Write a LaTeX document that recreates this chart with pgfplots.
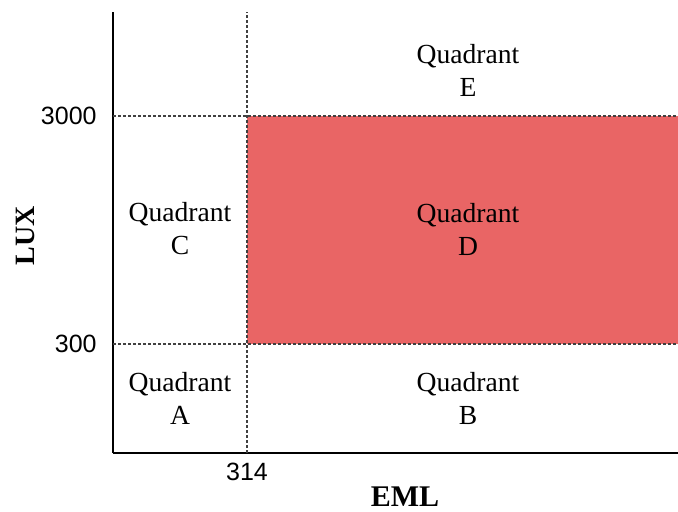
\documentclass[border=0pt]{standalone}
\usepackage{fontspec}
\setmainfont{Liberation Serif}
\newfontfamily\tickfont{Liberation Sans}
\usepackage{pgfplots}
\pgfplotsset{compat=1.18}
\definecolor{qred}{HTML}{E96565}
\definecolor{dotgray}{HTML}{404040}
\begin{document}
\begin{tikzpicture}
\useasboundingbox (-56.5pt,-29pt) rectangle (282.5pt,226.5pt);
\begin{axis}[
  scale only axis,
  width=282.5pt, height=220.5pt,
  xmin=0, xmax=565, ymin=0, ymax=441,
  axis x line=bottom, axis y line=left,
  axis line style={-, line width=1pt, black},
  xtick={134}, xticklabels={314},
  ytick={109,337}, yticklabels={300,3000},
  major tick length=0pt,
  ticklabel style={font=\tickfont\fontsize{12.5}{14}\selectfont},
  /pgf/number format/assume math mode=true,
  xticklabel style={inner sep=0pt, anchor=north, yshift=-5pt},
  yticklabel style={inner sep=0pt, anchor=east, xshift=-8pt},
  xlabel={EML}, ylabel={LUX},
  xlabel style={at={(axis cs:292,-44)}, anchor=center, inner sep=0pt, font=\bfseries\fontsize{15}{18}\selectfont},
  ylabel style={at={(axis cs:-88,217)}, anchor=center, inner sep=0pt, rotate=0, font=\bfseries\fontsize{14}{17}\selectfont},
  clip=false,
]
\addplot[fill=qred, draw=none] coordinates {(134,109) (565,109) (565,337) (134,337)} --cycle;
\addplot[dotgray, line width=0.6pt, dash pattern=on 1.5pt off 1pt] coordinates {(0,337) (565,337)};
\addplot[dotgray, line width=0.6pt, dash pattern=on 1.5pt off 1pt] coordinates {(0,109) (565,109)};
\addplot[dotgray, line width=0.6pt, dash pattern=on 1.5pt off 1pt] coordinates {(134,0) (134,441)};
\node[align=center, font=\fontsize{13.8}{16.5}\selectfont] at (axis cs:355,383) {Quadrant\\E};
\node[align=center, font=\fontsize{13.8}{16.5}\selectfont] at (axis cs:67,224) {Quadrant\\C};
\node[align=center, font=\fontsize{13.8}{16.5}\selectfont] at (axis cs:355,224) {Quadrant\\D};
\node[align=center, font=\fontsize{13.8}{16.5}\selectfont] at (axis cs:67,55) {Quadrant\\A};
\node[align=center, font=\fontsize{13.8}{16.5}\selectfont] at (axis cs:355,55) {Quadrant\\B};
\end{axis}
\end{tikzpicture}
\end{document}
